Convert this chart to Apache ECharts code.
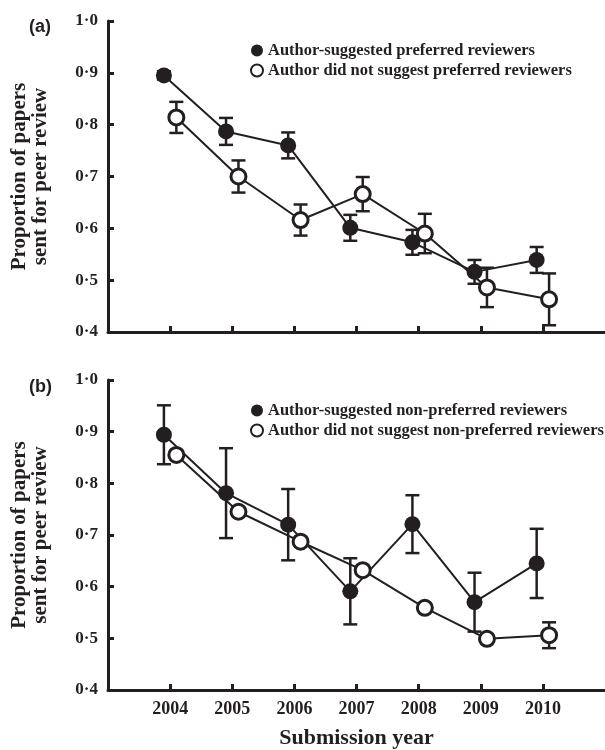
<!DOCTYPE html>
<html>
<head>
<meta charset="utf-8">
<script src="https://cdn.jsdelivr.net/npm/echarts@6/dist/echarts.min.js"></script>
<style>
  html, body { margin: 0; padding: 0; background: #fff; }
  #box { width: 605px; height: 750px; }
</style>
</head>
<body>
<div id="box"></div>
<script>
// data
var years = [2004, 2005, 2006, 2007, 2008, 2009, 2010];
var yTicks = [0.4, 0.5, 0.6, 0.7, 0.8, 0.9, 1.0];

// panel (a)
var aPrefMean = [0.895, 0.787, 0.760, 0.601, 0.573, 0.516, 0.539];
var aPrefErr = [0.008, 0.026, 0.025, 0.025, 0.024, 0.023, 0.025];
var aNoPrefMean = [0.814, 0.700, 0.616, 0.666, 0.590, 0.486, 0.463];
var aNoPrefErr = [0.030, 0.031, 0.030, 0.033, 0.038, 0.038, 0.050];

// panel (b)
var bNonPrefMean = [0.894, 0.781, 0.720, 0.591, 0.721, 0.570, 0.645];
var bNonPrefErr = [0.057, 0.087, 0.069, 0.064, 0.056, 0.057, 0.067];
var bNoNonPrefMean = [0.855, 0.745, 0.687, 0.632, 0.559, 0.499, 0.506];
var bNoNonPrefErr = [0.008, 0.008, 0.008, 0.008, 0.008, 0.008, 0.025];

var ink = '#231f20';
var serif = '"Liberation Serif", "Times New Roman", serif';
var shift = 0.1; // filled points sit left of the tick, open ones right

var chart = echarts.init(document.getElementById('box'));

function pts(mean, dx) {
  return years.map(function(y, i) { return [y + dx, mean[i]]; });
}
function bars(mean, err, dx) {
  return years.map(function(y, i) { return [y + dx, mean[i] - err[i], mean[i] + err[i]]; });
}

function errRender(params, api) {
  var x = api.value(0);
  var lo = api.coord([x, api.value(1)]);
  var hi = api.coord([x, api.value(2)]);
  var w = 7;
  var st = { stroke: ink, lineWidth: 2.5 };
  return {
    type: 'group',
    children: [
      { type: 'line', shape: { x1: lo[0], y1: lo[1], x2: hi[0], y2: hi[1] }, style: st },
      { type: 'line', shape: { x1: lo[0] - w, y1: lo[1], x2: lo[0] + w, y2: lo[1] }, style: st },
      { type: 'line', shape: { x1: hi[0] - w, y1: hi[1], x2: hi[0] + w, y2: hi[1] }, style: st }
    ]
  };
}

function xAxis(idx, showLabels) {
  return {
    type: 'value',
    gridIndex: idx,
    min: 2003,
    max: 2011,
    interval: 1,
    name: showLabels ? 'Submission year' : '',
    nameLocation: 'middle',
    nameGap: 37,
    nameTextStyle: { fontFamily: serif, fontWeight: 'bold', fontSize: 22, color: ink },
    axisLine: { lineStyle: { color: ink, width: 3 } },
    axisTick: { inside: true, length: 6, lineStyle: { color: ink, width: 3 }, customValues: years },
    axisLabel: {
      show: showLabels,
      customValues: years,
      margin: 10,
      fontFamily: serif, fontWeight: 'bold', fontSize: 18, color: ink,
      formatter: function(v) { return String(v); }
    },
    splitLine: { show: false }
  };
}

function yAxis(idx) {
  return {
    type: 'value',
    gridIndex: idx,
    min: 0.4,
    max: 1.0,
    interval: 0.1,
    name: 'Proportion of papers\nsent for peer review',
    nameLocation: 'middle',
    nameGap: 57,
    nameTextStyle: { fontFamily: serif, fontWeight: 'bold', fontSize: 21, lineHeight: 21, color: ink },
    axisLine: { show: true, lineStyle: { color: ink, width: 3 } },
    axisTick: { show: true, inside: true, length: 6, lineStyle: { color: ink, width: 3 }, customValues: yTicks },
    axisLabel: {
      margin: 10,
      fontFamily: serif, fontWeight: 'bold', fontSize: 17, color: ink,
      formatter: function(v) { return v.toFixed(1).replace('.', '\u00b7'); }
    },
    splitLine: { show: false }
  };
}

function lineSeries(name, idx, mean, dx, filled) {
  return {
    name: name,
    type: 'line',
    xAxisIndex: idx,
    yAxisIndex: idx,
    data: pts(mean, dx),
    symbol: 'circle',
    symbolSize: filled ? 16 : 15,
    showAllSymbol: true,
    z: filled ? 3 : 4,
    lineStyle: { color: ink, width: 2 },
    itemStyle: filled ? { color: ink } : { color: '#fff', borderColor: ink, borderWidth: 3 },
    emphasis: { disabled: true },
    animation: false
  };
}

function errSeries(idx, mean, err, dx) {
  return {
    type: 'custom',
    xAxisIndex: idx,
    yAxisIndex: idx,
    data: bars(mean, err, dx),
    encode: { x: 0, y: [1, 2] },
    renderItem: errRender,
    z: 1,
    silent: true,
    animation: false
  };
}

var legendText = { fontFamily: serif, fontWeight: 'bold', fontSize: 16.5, color: ink };
var labelFont = { fontFamily: '"Liberation Sans", Arial, sans-serif', fontWeight: 'bold', fontSize: 18, color: ink };

var option = {
  animation: false,
  title: [
    { text: '(a)', left: 24, top: 13, textStyle: labelFont },
    { text: '(b)', left: 24, top: 373, textStyle: labelFont }
  ],
  legend: [
    {
      data: ['Author-suggested preferred reviewers', 'Author did not suggest preferred reviewers'],
      orient: 'vertical', left: 245, top: 37, itemGap: 3,
      itemWidth: 12, itemHeight: 12, icon: 'circle',
      textStyle: legendText, selectedMode: false
    },
    {
      data: ['Author-suggested non-preferred reviewers', 'Author did not suggest non-preferred reviewers'],
      orient: 'vertical', left: 245, top: 397, itemGap: 3,
      itemWidth: 12, itemHeight: 12, icon: 'circle',
      textStyle: legendText, selectedMode: false
    }
  ],
  grid: [
    { left: 108, top: 21, right: 0, height: 311 },
    { left: 108, top: 380, right: 0, height: 312 }
  ],
  xAxis: [xAxis(0, false), xAxis(1, true)],
  yAxis: [yAxis(0), yAxis(1)],
  series: [
    errSeries(0, aPrefMean, aPrefErr, -shift),
    errSeries(0, aNoPrefMean, aNoPrefErr, shift),
    lineSeries('Author-suggested preferred reviewers', 0, aPrefMean, -shift, true),
    lineSeries('Author did not suggest preferred reviewers', 0, aNoPrefMean, shift, false),
    errSeries(1, bNonPrefMean, bNonPrefErr, -shift),
    errSeries(1, bNoNonPrefMean, bNoNonPrefErr, shift),
    lineSeries('Author-suggested non-preferred reviewers', 1, bNonPrefMean, -shift, true),
    lineSeries('Author did not suggest non-preferred reviewers', 1, bNoNonPrefMean, shift, false)
  ]
};

chart.setOption(option);
</script>
</body>
</html>
